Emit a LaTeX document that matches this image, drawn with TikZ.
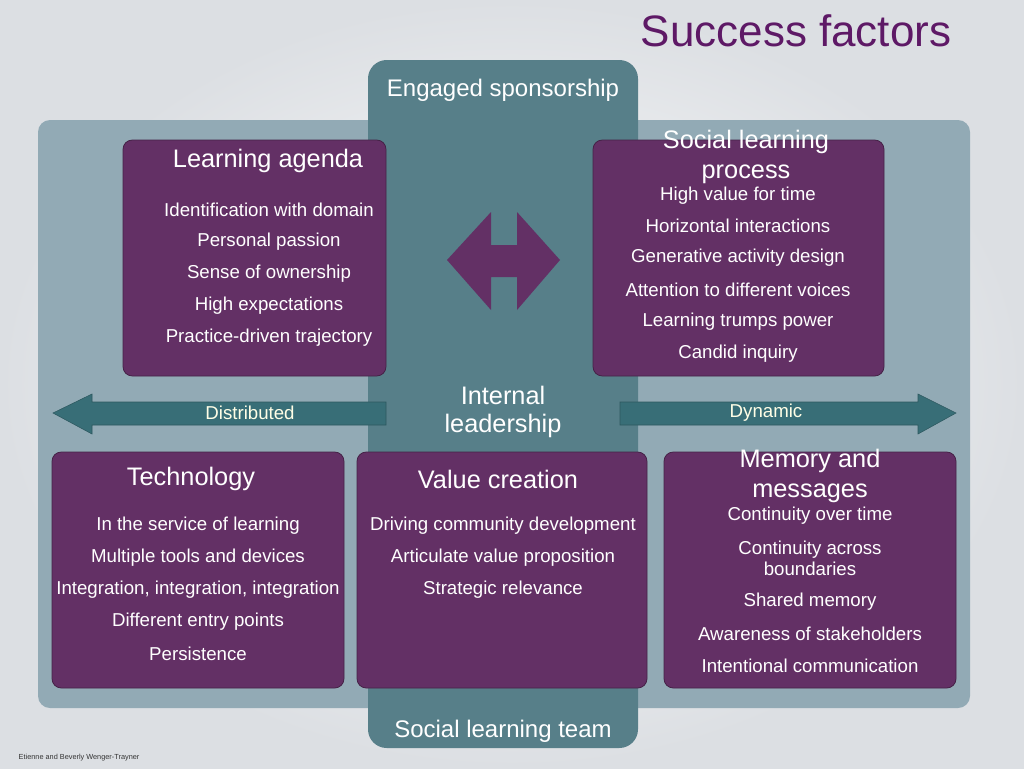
\documentclass[tikz,border=0pt]{standalone}
\usepackage{fontspec}
\setmainfont{Liberation Sans}
\begin{document}
\begin{tikzpicture}[x=0.75pt,y=-0.75pt,
  pbox/.style={fill=boxp,draw=boxp!70!black,line width=0.6pt,rounded corners=7pt},
  head/.style={text=white,font=\fontsize{19}{21}\selectfont,align=center},
  item/.style={text=white,font=\fontsize{14}{16}\selectfont,align=center},
  arr/.style={fill=arrc,draw=arrc!80!black,line width=0.4pt}]
\definecolor{bg}{HTML}{DCDFE3}
\definecolor{panel}{HTML}{92AAB5}
\definecolor{col}{HTML}{577F89}
\definecolor{boxp}{HTML}{633065}
\definecolor{arrc}{HTML}{386E77}
\definecolor{ttl}{HTML}{5E1966}
\useasboundingbox (0,0) rectangle (1024,768);
\shade[inner color=white,outer color=bg] (0,0) rectangle (1024,768);
\fill[panel,rounded corners=9pt] (38,120) rectangle (970,708);
\fill[col,rounded corners=14pt] (368,60) rectangle (638,748);
% boxes
\draw[pbox] (123,140) rectangle (386,376);
\draw[pbox] (593,140) rectangle (884,376);
\draw[pbox] (52,452) rectangle (344,688);
\draw[pbox] (357,452) rectangle (647,688);
\draw[pbox] (664,452) rectangle (956,688);
% center arrow
\fill[boxp] (447,260)--(491,212)--(491,245)--(517,245)--(517,212)--(560,260)--(517,310)--(517,277)--(491,277)--(491,310)--cycle;
% horizontal arrows
\draw[arr] (53,413)--(92,394)--(92,402)--(386,402)--(386,425)--(92,425)--(92,434)--cycle;
\draw[arr] (956,413)--(918,394)--(918,402)--(620,402)--(620,425)--(918,425)--(918,434)--cycle;
% texts
\node[text=ttl,font=\fontsize{33}{35}\selectfont,anchor=east] (title) at (956,31) {Success factors};
\node[text=white,font=\fontsize{18}{20}\selectfont] (spons) at (503,90) {Engaged sponsorship};
\node[text=white,font=\fontsize{18}{20}\selectfont] (team) at (503,731) {Social learning team};
\node[text=white,font=\fontsize{19}{21}\selectfont,align=center] (lead) at (503,412) {Internal\\leadership};
\node[text=yellow!10,font=\fontsize{14}{16}\selectfont] (dist) at (250,413) {Distributed};
\node[text=yellow!10,font=\fontsize{14}{16}\selectfont] (dyn) at (766,413) {Dynamic};
\node[head] (la) at (268,161) {Learning agenda};
\node[item] (la1) at (269,210) {Identification with domain};
\node[item] (la2) at (269,242) {Personal passion};
\node[item] (la3) at (269,274) {Sense of ownership};
\node[item] (la4) at (269,306) {High expectations};
\node[item] (la5) at (269,338) {Practice-driven trajectory};
\node[head,execute at begin node=\setlength{\baselineskip}{22pt}] (sl) at (746,157) {Social learning\\process};
\node[item] (sl1) at (738,196) {High value for time};
\node[item] (sl2) at (738,226) {Horizontal interactions};
\node[item] (sl3) at (738,258) {Generative activity design};
\node[item] (sl4) at (738,290) {Attention to different voices};
\node[item] (sl5) at (738,322) {Learning trumps power};
\node[item] (sl6) at (738,354) {Candid inquiry};
\node[head] (te) at (191,479) {Technology};
\node[item] (te1) at (198,526) {In the service of learning};
\node[item] (te2) at (198,558) {Multiple tools and devices};
\node[item] (te3) at (198,590) {Integration, integration, integration};
\node[item] (te4) at (198,622) {Different entry points};
\node[item] (te5) at (198,654) {Persistence};
\node[head] (vc) at (498,479) {Value creation};
\node[item] (vc1) at (503,526) {Driving community development};
\node[item] (vc2) at (503,558) {Articulate value proposition};
\node[item] (vc3) at (503,590) {Strategic relevance};
\node[head,execute at begin node=\setlength{\baselineskip}{22pt}] (mm) at (810,476) {Memory and\\messages};
\node[item] (mm1) at (810,516) {Continuity over time};
\node[item] (mm2) at (810,558) {Continuity across\\boundaries};
\node[item] (mm3) at (810,602) {Shared memory};
\node[item] (mm4) at (810,634) {Awareness of stakeholders};
\node[item] (mm5) at (810,666) {Intentional communication};
\node[text=black!80,font=\fontsize{5.5}{6}\selectfont,anchor=west] (cred) at (14,758) {Etienne and Beverly Wenger-Trayner};
\end{tikzpicture}
\end{document}
